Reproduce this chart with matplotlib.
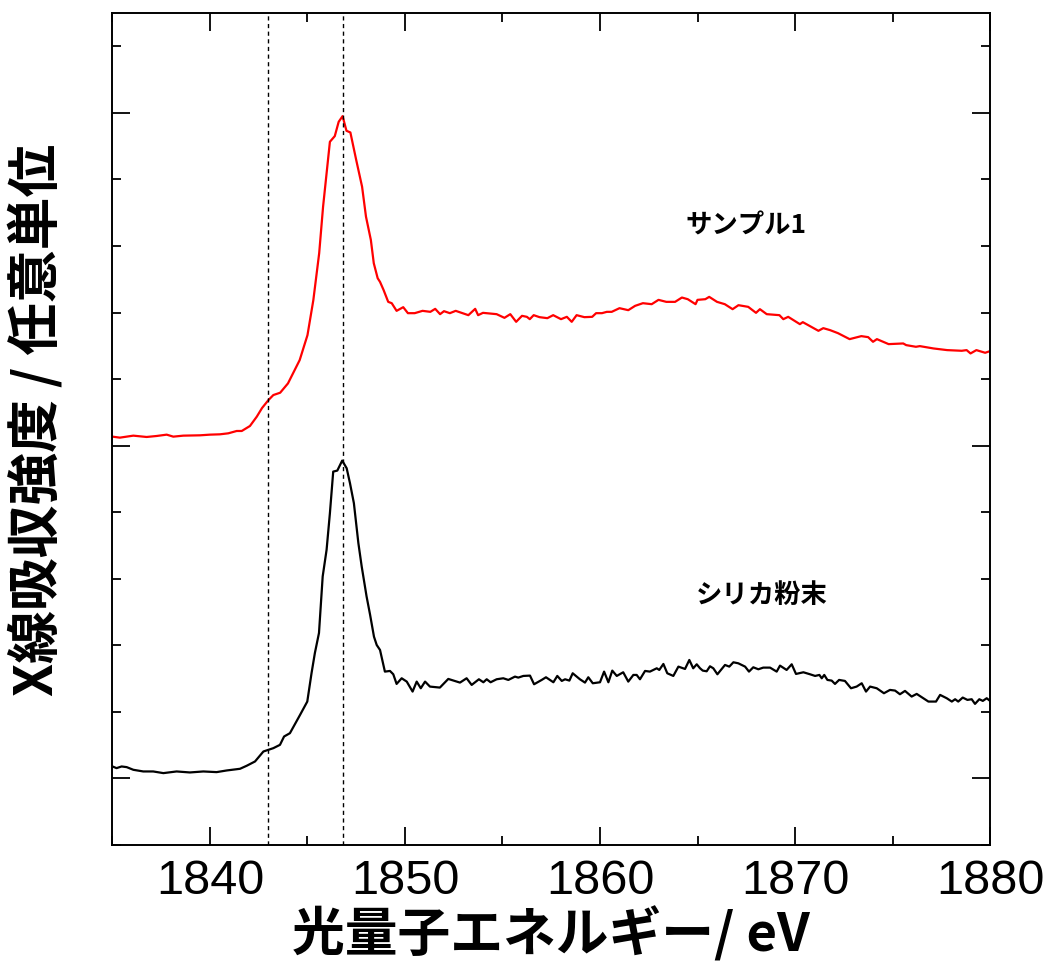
import matplotlib
matplotlib.use("Agg")
import matplotlib.pyplot as plt
from matplotlib.ticker import MultipleLocator

# --- DATA ---
# sample 1 (red), photon energy in eV / intensity in arbitrary units
sample1_e = [1835.0, 1835.38, 1836.07, 1836.75, 1837.27, 1837.78, 1838.12, 1838.63, 1839.49, 1840.0,
             1840.51, 1840.94, 1841.37, 1841.63, 1842.05, 1842.4,
             1842.67, 1843.0, 1843.25, 1843.6, 1844.0, 1844.6, 1845.0, 1845.3, 1845.6, 1845.8,
             1846.0, 1846.15, 1846.4, 1846.6, 1846.8, 1847.0, 1847.2, 1847.5, 1847.8, 1848.0,
             1848.25, 1848.4, 1848.6, 1848.72, 1848.9, 1849.14, 1849.32, 1849.57, 1849.91, 1850.15,
             1850.5, 1850.9, 1851.3, 1851.55, 1851.8, 1852.0, 1852.3, 1852.6, 1853.25, 1853.6,
             1853.75, 1854.0, 1854.7, 1855.1, 1855.4, 1855.7, 1856.0, 1856.25, 1856.4, 1856.6,
             1856.9, 1857.3, 1857.6, 1858.0, 1858.3, 1858.55, 1858.8, 1859.2, 1859.6, 1859.8,
             1860.1, 1860.35, 1860.6, 1861.0, 1861.45, 1861.8, 1862.2, 1862.65, 1863.0, 1863.4,
             1863.85, 1864.2, 1864.5, 1864.9, 1865.0, 1865.4, 1865.6, 1866.0, 1866.4, 1866.8,
             1867.1, 1867.6, 1868.0, 1868.2, 1868.55, 1869.2, 1869.4, 1869.65, 1870.25, 1870.4,
             1871.2, 1871.45, 1871.8, 1872.2, 1872.8, 1873.4, 1873.75, 1874.0, 1874.2, 1874.8,
             1875.55, 1875.7, 1876.2, 1876.4, 1877.1, 1877.8, 1878.55, 1878.8, 1879.0, 1879.3,
             1879.75, 1880.0]
sample1_i = [1.027, 1.024, 1.030, 1.026, 1.029, 1.033, 1.027, 1.030, 1.031, 1.033,
             1.034, 1.037, 1.044, 1.044, 1.059, 1.087,
             1.113, 1.137, 1.152, 1.159, 1.187, 1.257, 1.332, 1.437, 1.578, 1.718,
             1.828, 1.913, 1.930, 1.973, 1.990, 1.946, 1.941, 1.858, 1.778, 1.688,
             1.618, 1.548, 1.503, 1.492, 1.468, 1.432, 1.428, 1.405, 1.416, 1.398,
             1.398, 1.405, 1.402, 1.411, 1.395, 1.404, 1.398, 1.405, 1.392, 1.411,
             1.392, 1.399, 1.395, 1.384, 1.395, 1.372, 1.390, 1.387, 1.380, 1.392,
             1.386, 1.383, 1.392, 1.380, 1.387, 1.372, 1.392, 1.386, 1.387, 1.398,
             1.398, 1.402, 1.402, 1.413, 1.407, 1.420, 1.428, 1.425, 1.438, 1.432,
             1.432, 1.445, 1.440, 1.425, 1.438, 1.440, 1.447, 1.432, 1.425, 1.410,
             1.422, 1.417, 1.399, 1.410, 1.395, 1.392, 1.380, 1.387, 1.365, 1.371,
             1.345, 1.353, 1.347, 1.338, 1.320, 1.329, 1.326, 1.312, 1.320, 1.305,
             1.307, 1.302, 1.297, 1.299, 1.292, 1.287, 1.285, 1.287, 1.277, 1.287,
             1.279, 1.284]

# silica powder (black)
silica_e = [1835.0, 1835.21, 1835.47, 1835.73, 1836.07, 1836.58, 1837.09, 1837.61, 1838.29, 1838.97,
            1839.66, 1840.34, 1840.86, 1841.54, 1841.88, 1842.31, 1842.74, 1843.0, 1843.25, 1843.59,
            1843.8, 1844.1, 1844.62, 1844.99, 1845.21, 1845.38, 1845.59, 1845.78, 1845.98, 1846.15,
            1846.32, 1846.53, 1846.78, 1847.01, 1847.18, 1847.38, 1847.61, 1847.78, 1848.03, 1848.21,
            1848.41, 1848.55, 1848.72, 1848.97, 1849.23, 1849.4, 1849.57, 1849.83, 1850.09, 1850.39,
            1850.6, 1850.81, 1851.03, 1851.28, 1851.79, 1852.22, 1852.82, 1853.16, 1853.42, 1853.79,
            1854.02, 1854.19, 1854.39, 1854.7, 1855.04, 1855.3, 1855.64, 1855.81, 1856.07, 1856.41,
            1856.62, 1857.01, 1857.23, 1857.61, 1857.81, 1858.04, 1858.21, 1858.43, 1858.6, 1858.97,
            1859.23, 1859.4, 1859.63, 1860.0, 1860.21, 1860.43, 1860.63, 1860.86, 1861.19, 1861.45,
            1861.71, 1861.88, 1862.05, 1862.31, 1862.56, 1862.91, 1863.04, 1863.25, 1863.45, 1863.76,
            1864.02, 1864.36, 1864.58, 1864.78, 1864.96, 1865.13, 1865.27, 1865.47, 1865.64, 1865.81,
            1866.02, 1866.41, 1866.63, 1866.84, 1867.09, 1867.44, 1867.64, 1867.86, 1868.12, 1868.37,
            1868.72, 1869.06, 1869.23, 1869.57, 1869.83, 1870.05, 1870.43, 1870.77, 1871.03, 1871.25,
            1871.37, 1871.5, 1871.66, 1871.88, 1872.05, 1872.26, 1872.56, 1872.87, 1873.16, 1873.42,
            1873.64, 1873.85, 1874.19, 1874.56, 1874.87, 1875.13, 1875.38, 1875.64, 1875.98, 1876.24,
            1876.5, 1876.84, 1877.23, 1877.44, 1877.78, 1878.04, 1878.21, 1878.37, 1878.6, 1878.84,
            1879.06, 1879.23, 1879.45, 1879.63, 1879.83, 1880.0]
silica_i = [0.036, 0.031, 0.036, 0.034, 0.026, 0.021, 0.021, 0.016, 0.021, 0.018,
            0.021, 0.019, 0.024, 0.029, 0.038, 0.051, 0.081, 0.086, 0.091, 0.101,
            0.126, 0.136, 0.191, 0.231, 0.317, 0.377, 0.437, 0.607, 0.687, 0.797,
            0.922, 0.925, 0.955, 0.932, 0.887, 0.827, 0.707, 0.637, 0.547, 0.492,
            0.426, 0.401, 0.386, 0.321, 0.323, 0.313, 0.284, 0.301, 0.291, 0.261,
            0.291, 0.271, 0.291, 0.276, 0.273, 0.299, 0.288, 0.301, 0.281, 0.298,
            0.289, 0.298, 0.289, 0.298, 0.301, 0.296, 0.306, 0.303, 0.308, 0.309,
            0.283, 0.296, 0.304, 0.289, 0.308, 0.293, 0.298, 0.294, 0.316, 0.298,
            0.288, 0.304, 0.286, 0.289, 0.321, 0.289, 0.324, 0.308, 0.319, 0.291,
            0.311, 0.311, 0.298, 0.323, 0.321, 0.331, 0.326, 0.344, 0.316, 0.308,
            0.336, 0.329, 0.356, 0.331, 0.343, 0.331, 0.324, 0.322, 0.337, 0.331,
            0.313, 0.341, 0.336, 0.349, 0.346, 0.336, 0.321, 0.334, 0.328, 0.333,
            0.333, 0.321, 0.339, 0.326, 0.343, 0.314, 0.319, 0.313, 0.308, 0.311,
            0.301, 0.311, 0.296, 0.294, 0.284, 0.296, 0.293, 0.271, 0.276, 0.286,
            0.261, 0.276, 0.271, 0.256, 0.266, 0.264, 0.253, 0.263, 0.246, 0.254,
            0.244, 0.231, 0.231, 0.251, 0.241, 0.231, 0.238, 0.231, 0.243, 0.236,
            0.238, 0.224, 0.238, 0.233, 0.241, 0.233]

edge_lines = [1843.0, 1846.8]
x_ticks = [1840, 1850, 1860, 1870, 1880]

JP = ['Noto Sans CJK JP', 'DejaVu Sans']

fig = plt.figure(figsize=(10.53, 9.61), dpi=100)
ax = fig.add_axes([0.1068, 0.1207, 0.8334, 0.8658])

ax.plot(sample1_e, sample1_i, color='#ff0000', lw=1.6)
ax.plot(silica_e, silica_i, color='black', lw=1.6)
for xv in edge_lines:
    ax.axvline(xv, color='black', lw=1.0, ls=(0, (3, 2.5)))

ax.text(1867.5, 1.66, 'サンプル1', family=JP, fontweight='bold', fontsize=19,
        ha='center', va='center')
ax.text(1868.3, 0.549, 'シリカ粉末', family=JP, fontweight='bold', fontsize=19,
        ha='center', va='center')

ax.set_xlim(1835, 1880)
ax.set_ylim(-0.2, 2.3)
ax.set_xticks(x_ticks)
ax.xaxis.set_minor_locator(MultipleLocator(5))
ax.yaxis.set_major_locator(MultipleLocator(1))
ax.yaxis.set_minor_locator(MultipleLocator(0.2))
ax.set_yticklabels([])
ax.tick_params(which='both', direction='in', top=True, right=True, width=1.3)
ax.tick_params(which='major', length=13)
ax.tick_params(which='minor', length=6.5)
ax.tick_params(axis='x', labelsize=35, pad=10)
for lbl in ax.get_xticklabels():
    lbl.set_family('Liberation Sans')
for s in ax.spines.values():
    s.set_linewidth(1.4)

ax.set_xlabel('光量子エネルギー/ eV', family=JP, fontweight='bold', fontsize=38, labelpad=2)
ax.set_ylabel('X線吸収強度 / 任意単位', family=JP, fontweight='bold', fontsize=38)
ax.yaxis.set_label_coords(-0.056, 0.511)

fig.savefig('out.png', dpi=100)
